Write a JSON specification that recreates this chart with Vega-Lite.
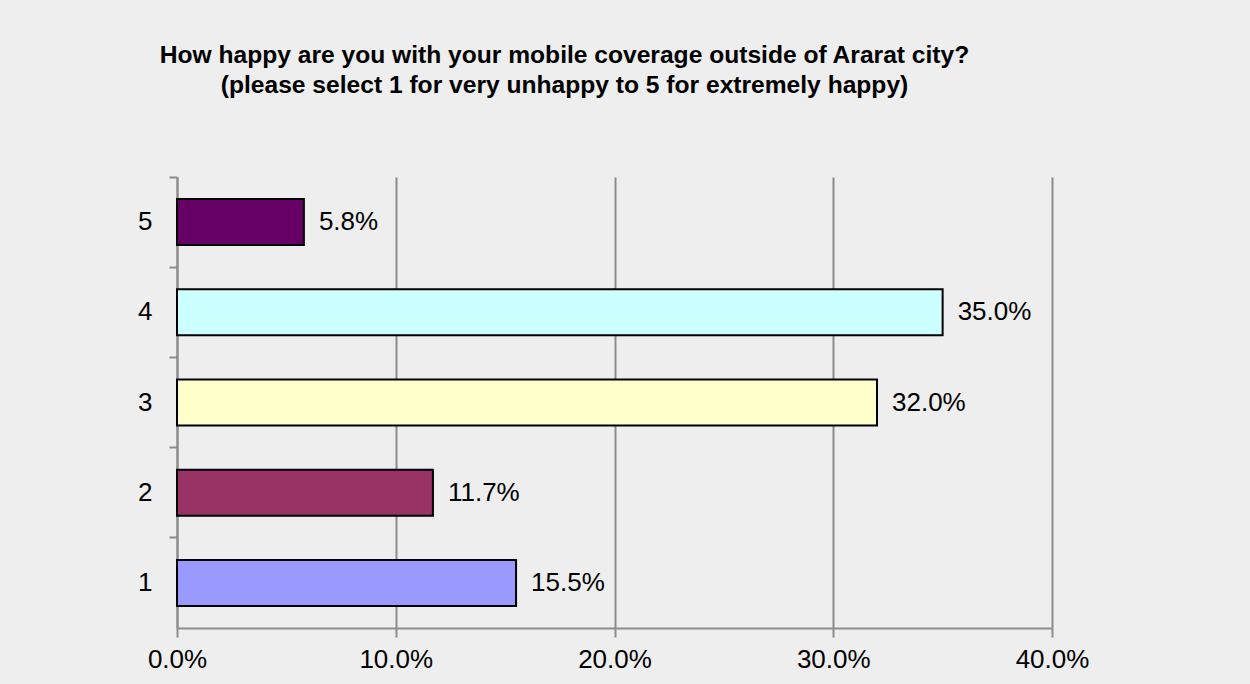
{
  "$schema": "https://vega.github.io/schema/vega-lite/v6.json",
  "autosize": "none",
  "width": 875,
  "height": 451,
  "padding": {"left": 177, "top": 177, "right": 198, "bottom": 56},
  "background": "#eeeeee",
  "title": {
    "text": ["How happy are you with your mobile coverage outside of Ararat city?", "(please select 1 for very unhappy to 5 for extremely happy)"],
    "font": "Liberation Sans",
    "fontSize": 24.6,
    "fontWeight": "bold",
    "color": "#000000",
    "anchor": "middle",
    "frame": "group",
    "dx": -50,
    "offset": 77,
    "lineHeight": 30
  },
  "data": {
    "values": [
      {"rating": "5", "share": 0.058, "color": "#660066"},
      {"rating": "4", "share": 0.350, "color": "#ccffff"},
      {"rating": "3", "share": 0.320, "color": "#ffffcc"},
      {"rating": "2", "share": 0.117, "color": "#993366"},
      {"rating": "1", "share": 0.155, "color": "#9999ff"}
    ]
  },
  "config": {
    "view": {"stroke": null},
    "font": "Liberation Sans"
  },
  "encoding": {
    "y": {
      "field": "rating",
      "type": "nominal",
      "sort": ["5", "4", "3", "2", "1"],
      "scale": {"paddingInner": 0, "paddingOuter": 0},
      "axis": {
        "title": null,
        "bandPosition": 0,
        "domainColor": "#8c8c8c",
        "domainWidth": 2,
        "tickColor": "#8c8c8c",
        "tickWidth": 2,
        "tickSize": 8,
        "labelFontSize": 26,
        "labelColor": "#000000",
        "labelPadding": 17,
        "labelFont": "Liberation Sans",
        "grid": false
      }
    },
    "x": {
      "field": "share",
      "type": "quantitative",
      "scale": {"domain": [0, 0.4], "nice": false},
      "axis": {
        "title": null,
        "format": ".1%",
        "values": [0, 0.1, 0.2, 0.3, 0.4],
        "grid": true,
        "gridColor": "#8c8c8c",
        "gridWidth": 2,
        "domainColor": "#8c8c8c",
        "domainWidth": 2,
        "tickColor": "#8c8c8c",
        "tickWidth": 2,
        "tickSize": 9,
        "labelFlush": false,
        "labelFontSize": 26,
        "labelColor": "#000000",
        "labelPadding": 9,
        "labelFont": "Liberation Sans"
      }
    }
  },
  "layer": [
    {
      "mark": {"type": "bar", "height": {"band": 0.51}, "stroke": "#000000", "strokeWidth": 2},
      "encoding": {
        "fill": {"field": "color", "type": "nominal", "scale": null}
      }
    },
    {
      "mark": {"type": "text", "align": "left", "baseline": "middle", "dx": 15, "fontSize": 26, "color": "#000000", "font": "Liberation Sans"},
      "encoding": {
        "text": {"field": "share", "type": "quantitative", "format": ".1%"}
      }
    }
  ]
}
